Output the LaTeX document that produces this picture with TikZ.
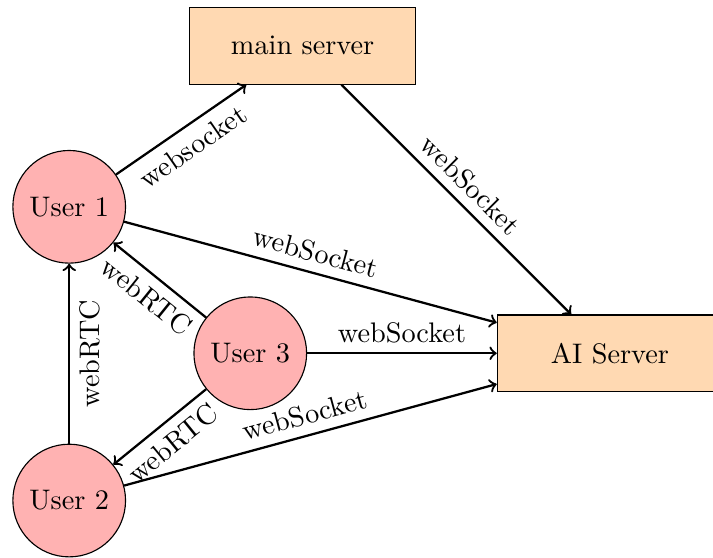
\documentclass[tikz,border=0pt]{standalone}
\begin{document}
\begin{tikzpicture}[
    user/.style={circle,draw,fill=red!30,minimum size=1.4cm},
    server/.style={rectangle,draw,fill=orange!30,minimum width=2.8cm,minimum height=0.95cm},
    link/.style={thick,->}
]

\useasboundingbox (-0.86,-0.71) rectangle (8.0,6.22);

% clients
\node[user] (user1) at (0,3.65) {User 1};
\node[user] (user2) at (0,0) {User 2};
\node[user] (user3) at (2.25,1.83) {User 3};

% servers
\node[server] (main) at (2.9,5.65) {main server};
\node[server] (ai) at (6.72,1.83) {AI Server};

\draw[link] (user1) -- (main) node[midway,below,sloped] {websocket};
\draw[link] (main) -- (ai) node[midway,above,sloped] {webSocket};
\draw[link] (user1) -- (ai) node[midway,above,sloped] {webSocket};
\draw[link] (user3) -- (ai) node[midway,above] {webSocket};
\draw[link] (user2) -- (ai) node[midway,above,sloped] {webSocket};

% peer to peer
\draw[link] (user2) -- (user1) node[midway,below,sloped] {webRTC};
\draw[link] (user3) -- (user1) node[midway,below,sloped] {webRTC};
\draw[link] (user3) -- (user2) node[midway,below,sloped] {webRTC};

\end{tikzpicture}
\end{document}
